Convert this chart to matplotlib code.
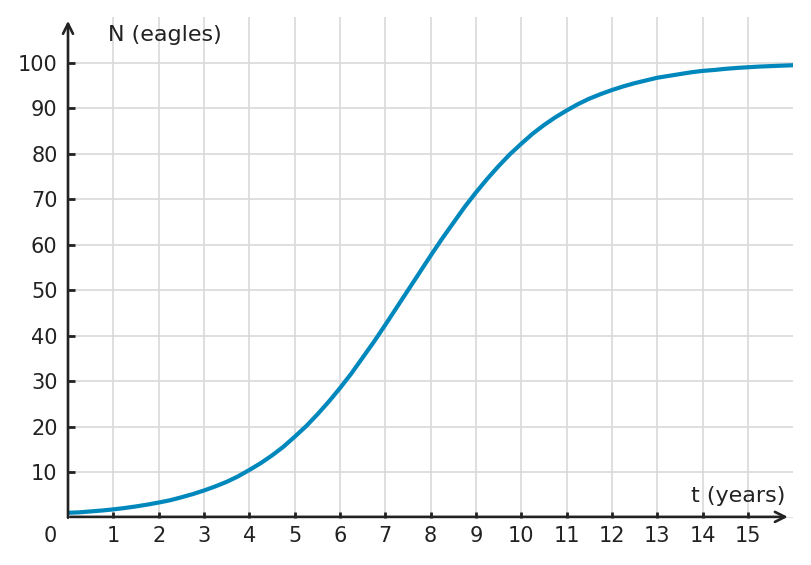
import matplotlib
matplotlib.use("Agg")
import matplotlib.pyplot as plt

# Values (t in years, N eagles)
t_years = [0, 0.25, 0.5, 0.75, 1, 1.25, 1.5, 1.75, 2, 2.25, 2.5, 2.75, 3, 3.25,
           3.5, 3.75, 4, 4.25, 4.5, 4.75, 5, 5.25, 5.5, 5.75, 6, 6.25, 6.5, 6.75,
           7, 7.25, 7.5, 7.75, 8, 8.25, 8.5, 8.75, 9, 9.25, 9.5, 9.75, 10, 10.25,
           10.5, 10.75, 11, 11.25, 11.5, 11.75, 12, 12.25, 12.5, 12.75, 13, 13.25,
           13.5, 13.75, 14, 14.25, 14.5, 14.75, 15, 15.25, 15.5, 15.75, 16]
n_eagles = [1.1, 1.2, 1.4, 1.6, 1.85, 2.15, 2.5, 2.9, 3.35, 3.85, 4.5, 5.2, 6.0,
            6.9, 7.9, 9.1, 10.5, 12.0, 13.7, 15.6, 17.8, 20.1, 22.7, 25.5, 28.5,
            31.7, 35.2, 38.7, 42.4, 46.2, 50.0, 53.8, 57.6, 61.3, 64.8, 68.3, 71.5,
            74.5, 77.3, 79.9, 82.2, 84.4, 86.3, 88.0, 89.5, 90.9, 92.1, 93.1, 94.0,
            94.8, 95.5, 96.1, 96.7, 97.1, 97.5, 97.9, 98.2, 98.4, 98.65, 98.85,
            99.0, 99.15, 99.25, 99.35, 99.45]
x_ticks = list(range(1, 16))
y_ticks = list(range(10, 101, 10))
x_label = "t (years)"
y_label = "N (eagles)"

W, H = 811, 565
fig = plt.figure(figsize=(W / 100, H / 100), dpi=100)
left, right, bottom, top = 68, 793.3, 517.8, 17.2
ax = fig.add_axes([left / W, 1 - bottom / H, (right - left) / W, (bottom - top) / H])
ax.set_xlim(0, 16)
ax.set_ylim(0, 110)

text_col = "#222222"
grid_col = "#d9d9d9"
for s in ax.spines.values():
    s.set_visible(False)

for xv in x_ticks:
    ax.axvline(xv, color=grid_col, lw=1.2, zorder=0)
for yv in [0] + y_ticks:
    ax.axhline(yv, color=grid_col, lw=1.2, zorder=0)

ax.plot(t_years, n_eagles, color="#0088bd", lw=3.0, zorder=3,
        solid_capstyle="butt", solid_joinstyle="round")

# axes with arrows
ax.annotate("", xy=(0, 109.2), xytext=(0, 0), xycoords="data",
            arrowprops=dict(arrowstyle="->", color=text_col, lw=1.9,
                            mutation_scale=18, shrinkA=0, shrinkB=0),
            annotation_clip=False, zorder=4)
ax.annotate("", xy=(15.88, 0.2), xytext=(0.05, 0.2), xycoords="data",
            arrowprops=dict(arrowstyle="->", color=text_col, lw=1.9,
                            mutation_scale=18, shrinkA=0, shrinkB=0),
            annotation_clip=False, zorder=4)

fs_tick = 15
ax.set_xticks(x_ticks)
ax.set_xticklabels([str(v) for v in x_ticks])
ax.set_yticks(y_ticks)
ax.set_yticklabels([str(v) for v in y_ticks])
ax.tick_params(axis="x", direction="in", length=4, width=2, color=text_col,
               labelsize=fs_tick, labelcolor=text_col, pad=6)
ax.tick_params(axis="y", direction="in", length=5, width=2, color=text_col,
               labelsize=fs_tick, labelcolor=text_col, pad=7.5)

ax.text(-0.4, -3.9, "0", ha="center", va="center", fontsize=fs_tick,
        color=text_col, clip_on=False)
ax.text(0.88, 106.1, y_label, ha="left", va="center", fontsize=16, color=text_col)
ax.text(15.82, 4.9, x_label, ha="right", va="center", fontsize=16, color=text_col)

fig.savefig("out.png", dpi=100)
